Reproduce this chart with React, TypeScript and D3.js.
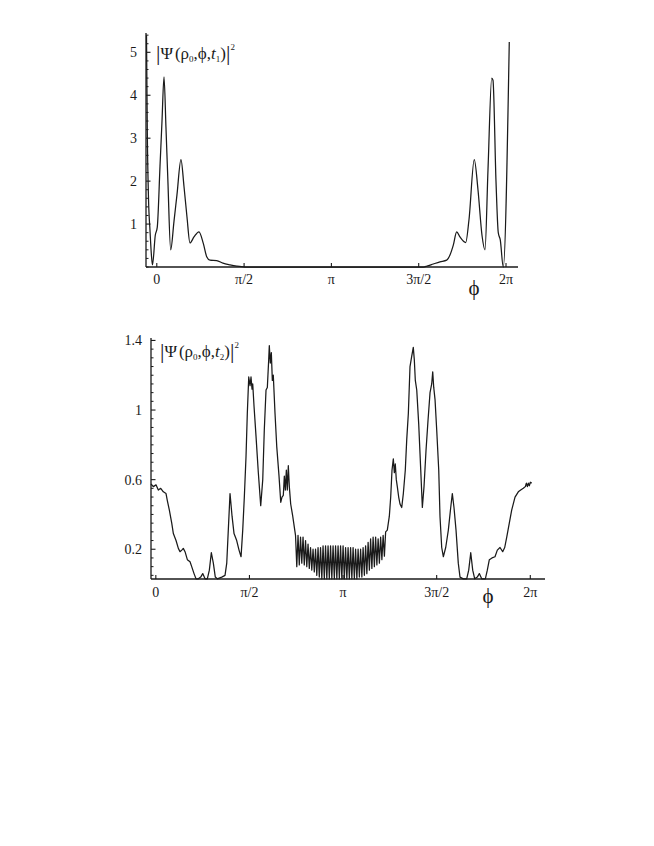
import * as d3 from "d3";

// |Psi|^2 at t1 as [phi, value]
const TOP_CURVE: [number, number][] = [
  [-0.185, 5.4], [-0.171, 3.2], [-0.149, 1.6], [-0.122, 0.85], [-0.095, 0.25], [-0.077, 0.05],
  [-0.027, 0.74], [0.009, 0.93], [0.058, 2.35], [0.094, 3.4], [0.13, 4.43], [0.165, 3.26],
  [0.2, 2.0], [0.25, 0.4], [0.31, 1.07], [0.363, 1.68], [0.435, 2.5], [0.49, 1.87],
  [0.543, 1.17], [0.597, 0.56], [0.669, 0.7], [0.759, 0.82], [0.837, 0.55], [0.898, 0.24],
  [0.957, 0.16], [1.078, 0.15], [1.191, 0.09], [1.317, 0.05], [1.438, 0.02], [1.587, 0],
  [4.8, 0], [4.861, 0.02], [4.975, 0.07], [5.095, 0.12], [5.216, 0.16], [5.275, 0.28],
  [5.335, 0.51], [5.396, 0.82], [5.455, 0.7], [5.558, 0.57], [5.617, 1.1], [5.712, 2.5],
  [5.779, 1.8], [5.851, 0.74], [5.905, 0.4], [5.959, 2.26], [6.026, 4.4], [6.049, 4.35],
  [6.103, 2.0], [6.144, 0.8], [6.18, 0.63], [6.234, 0], [6.342, 5.24],
];

// |Psi|^2 at t2, left rise
const BOTTOM_LEFT: [number, number][] = [
  [-0.081, 0.575], [-0.042, 0.56], [0.003, 0.57], [0.042, 0.54], [0.082, 0.55], [0.126, 0.53],
  [0.171, 0.52], [0.193, 0.48], [0.227, 0.425], [0.267, 0.35], [0.294, 0.29], [0.339, 0.25],
  [0.378, 0.205], [0.406, 0.186], [0.435, 0.195], [0.461, 0.205], [0.49, 0.186], [0.529, 0.14],
  [0.574, 0.128], [0.602, 0.1], [0.641, 0.06], [0.674, 0.03], [0.713, 0.03], [0.753, 0.04],
  [0.787, 0.06], [0.826, 0.03], [0.864, 0.03], [0.898, 0.08], [0.931, 0.18], [0.965, 0.12],
  [0.998, 0.04], [1.032, 0.03], [1.106, 0.04], [1.161, 0.05], [1.19, 0.12], [1.216, 0.31],
  [1.245, 0.52], [1.279, 0.39], [1.312, 0.29], [1.357, 0.25], [1.396, 0.195], [1.43, 0.157],
  [1.458, 0.31], [1.485, 0.5], [1.513, 0.73], [1.535, 0.98], [1.559, 1.19], [1.581, 1.14],
  [1.597, 1.19], [1.614, 1.12], [1.626, 1.15], [1.648, 1.02], [1.681, 0.85], [1.72, 0.64],
  [1.76, 0.45], [1.794, 0.6], [1.82, 0.885], [1.849, 1.115], [1.871, 1.13], [1.894, 1.29],
  [1.904, 1.37], [1.921, 1.27], [1.938, 1.33], [1.955, 1.17], [1.971, 1.2], [2.0, 0.98],
  [2.029, 0.79], [2.067, 0.62], [2.096, 0.47], [2.117, 0.5], [2.139, 0.51], [2.156, 0.62],
  [2.173, 0.54], [2.19, 0.655], [2.206, 0.54], [2.223, 0.68], [2.24, 0.56], [2.263, 0.46],
  [2.297, 0.39], [2.331, 0.31],
];

// fast wiggle around phi = pi
const BOTTOM_MIDDLE: [number, number][] = [
  [2.344, 0.28], [2.365, 0.1], [2.386, 0.28], [2.407, 0.11], [2.428, 0.27], [2.449, 0.12],
  [2.47, 0.27], [2.491, 0.11], [2.512, 0.25], [2.533, 0.1], [2.554, 0.23], [2.575, 0.09],
  [2.596, 0.21], [2.617, 0.08], [2.638, 0.2], [2.659, 0.07], [2.68, 0.2], [2.701, 0.05],
  [2.722, 0.21], [2.743, 0.04], [2.764, 0.21], [2.785, 0.03], [2.806, 0.22], [2.827, 0.03],
  [2.848, 0.22], [2.869, 0.03], [2.89, 0.22], [2.911, 0.03], [2.932, 0.22], [2.953, 0.03],
  [2.974, 0.22], [2.995, 0.03], [3.016, 0.22], [3.037, 0.03], [3.058, 0.22], [3.079, 0.03],
  [3.1, 0.22], [3.121, 0.03], [3.142, 0.22], [3.163, 0.03], [3.184, 0.21], [3.205, 0.03],
  [3.226, 0.21], [3.247, 0.03], [3.268, 0.21], [3.289, 0.03], [3.31, 0.21], [3.331, 0.03],
  [3.352, 0.2], [3.373, 0.03], [3.394, 0.2], [3.415, 0.04], [3.436, 0.2], [3.457, 0.04],
  [3.478, 0.21], [3.499, 0.05], [3.52, 0.22], [3.541, 0.06], [3.562, 0.24], [3.583, 0.08],
  [3.604, 0.26], [3.625, 0.09], [3.646, 0.27], [3.667, 0.1], [3.688, 0.27], [3.709, 0.11],
  [3.73, 0.26], [3.751, 0.12], [3.772, 0.27], [3.793, 0.14], [3.814, 0.28], [3.835, 0.16],
  [3.856, 0.3],
];

const BOTTOM_RIGHT: [number, number][] = [
  [3.884, 0.31], [3.918, 0.39], [3.941, 0.5], [3.963, 0.655], [3.985, 0.72], [4.002, 0.64],
  [4.018, 0.69], [4.035, 0.6], [4.052, 0.56], [4.075, 0.5], [4.097, 0.46], [4.126, 0.44],
  [4.153, 0.52], [4.186, 0.655], [4.21, 0.83], [4.237, 0.98], [4.265, 1.25], [4.294, 1.31],
  [4.32, 1.36], [4.337, 1.29], [4.354, 1.17], [4.378, 1.115], [4.411, 0.92], [4.445, 0.655],
  [4.472, 0.44], [4.5, 0.56], [4.534, 0.77], [4.567, 0.94], [4.601, 1.1], [4.629, 1.15],
  [4.646, 1.22], [4.663, 1.13], [4.685, 1.06], [4.713, 0.885], [4.747, 0.655], [4.768, 0.39],
  [4.797, 0.21], [4.824, 0.157], [4.864, 0.21], [4.908, 0.31], [4.948, 0.44], [4.975, 0.52],
  [5.003, 0.44], [5.037, 0.31], [5.075, 0.12], [5.104, 0.04], [5.159, 0.03], [5.216, 0.03],
  [5.25, 0.08], [5.284, 0.18], [5.317, 0.08], [5.351, 0.03], [5.394, 0.04], [5.428, 0.06],
  [5.468, 0.03], [5.529, 0.03], [5.562, 0.08], [5.596, 0.14], [5.641, 0.15], [5.691, 0.157],
  [5.73, 0.195], [5.775, 0.21], [5.82, 0.186], [5.854, 0.21], [5.888, 0.27], [5.931, 0.35],
  [5.971, 0.425], [6.027, 0.5], [6.082, 0.53], [6.122, 0.54], [6.166, 0.55], [6.2, 0.56],
  [6.217, 0.58], [6.234, 0.56], [6.25, 0.58], [6.267, 0.565], [6.284, 0.585], [6.307, 0.58],
];

const X_TICKS = [0, Math.PI / 2, Math.PI, (3 * Math.PI) / 2, 2 * Math.PI];
const X_TICK_LABELS = ["0", "π/2", "π", "3π/2", "2π"];
const TOP_Y_TICKS = [1, 2, 3, 4, 5];
const TOP_Y_LABELS = ["1", "2", "3", "4", "5"];
const BOTTOM_Y_TICKS = [0.2, 0.6, 1, 1.4];
const BOTTOM_Y_LABELS = ["0.2", "0.6", "1", "1.4"];

const FONT = "'Liberation Serif', 'Times New Roman', serif";
const INK = "#1a1a1a";

type PanelProps = {
  curve: [number, number][];
  smooth: boolean;
  xDomain: [number, number];
  xRange: [number, number];
  yDomain: [number, number];
  yRange: [number, number];
  yTicks: number[];
  yLabels: string[];
  minorStep: number;
  yLabelX: number;
  xLabelY: number;
  phiPos: [number, number];
  titlePos: [number, number];
  tIndex: string;
};

function Panel(p: PanelProps) {
  const x = d3.scaleLinear().domain(p.xDomain).range(p.xRange);
  const y = d3.scaleLinear().domain(p.yDomain).range(p.yRange);
  const line = d3
    .line<[number, number]>()
    .x((d) => x(d[0]))
    .y((d) => y(d[1]))
    .curve(p.smooth ? d3.curveMonotoneX : d3.curveLinear);

  const x0 = p.xRange[0];
  const yBase = p.yRange[0];
  const minors = d3
    .range(Math.ceil(p.yDomain[0] / p.minorStep) * p.minorStep, p.yDomain[1] + 1e-9, p.minorStep)
    .filter((v) => !p.yTicks.some((t) => Math.abs(t - v) < 1e-6));

  return (
    <g>
      <path d={line(p.curve) ?? ""} fill="none" stroke={INK} strokeWidth={1.25} strokeLinejoin="round" />
      {/* axes */}
      <line x1={p.xRange[0]} x2={p.xRange[1]} y1={yBase} y2={yBase} stroke={INK} strokeWidth={1.3} />
      <line x1={x0} x2={x0} y1={p.yRange[0]} y2={p.yRange[1]} stroke={INK} strokeWidth={1.3} />
      {minors.map((v, i) => (
        <line key={"m" + i} x1={x0} x2={x0 + 2.5} y1={y(v)} y2={y(v)} stroke={INK} strokeWidth={1} />
      ))}
      {p.yTicks.map((v, i) => (
        <g key={"y" + i}>
          <line x1={x0} x2={x0 + 4.5} y1={y(v)} y2={y(v)} stroke={INK} strokeWidth={1.1} />
          <text x={p.yLabelX} y={y(v)} dy="0.35em" textAnchor="end" fontFamily={FONT} fontSize={14} fill={INK}>
            {p.yLabels[i]}
          </text>
        </g>
      ))}
      {X_TICKS.map((v, i) => (
        <g key={"x" + i}>
          <line x1={x(v)} x2={x(v)} y1={yBase} y2={yBase - 4} stroke={INK} strokeWidth={1.1} />
          <text x={x(v)} y={p.xLabelY} textAnchor="middle" fontFamily={FONT} fontSize={14} fill={INK}>
            {X_TICK_LABELS[i]}
          </text>
        </g>
      ))}
      <text x={p.phiPos[0]} y={p.phiPos[1]} textAnchor="middle" fontFamily={FONT} fontSize={21} fill={INK}>
        ϕ
      </text>
      <text x={p.titlePos[0]} y={p.titlePos[1]} fontFamily={FONT} fontSize={17} fill={INK}>
        <tspan fontSize={22} dy={1}>|</tspan>
        <tspan dy={-1}>Ψ</tspan>
        <tspan dx={2}>(ρ</tspan>
        <tspan fontSize={9} dy={3}>0</tspan>
        <tspan dy={-3}>,ϕ,</tspan>
        <tspan fontStyle="italic">t</tspan>
        <tspan fontSize={9} dy={3}>{p.tIndex}</tspan>
        <tspan dy={-3}>)</tspan>
        <tspan fontSize={22} dy={1}>|</tspan>
        <tspan fontSize={9} dy={-10}>2</tspan>
      </text>
    </g>
  );
}

export default function App() {
  const bottomCurve = [...BOTTOM_LEFT, ...BOTTOM_MIDDLE, ...BOTTOM_RIGHT];
  return (
    <svg
      width={654}
      height={846}
      viewBox="0 0 654 846"
      style={{ position: "absolute", left: 0, top: 0, background: "#fff" }}
    >
      <rect width={654} height={846} fill="#fff" />
      <Panel
        curve={TOP_CURVE}
        smooth={true}
        xDomain={[-0.194, 6.499]}
        xRange={[146, 518]}
        yDomain={[0, 5.45]}
        yRange={[267, 33]}
        yTicks={TOP_Y_TICKS}
        yLabels={TOP_Y_LABELS}
        minorStep={0.2}
        yLabelX={137}
        xLabelY={284}
        phiPos={[474, 295]}
        titlePos={[156, 59]}
        tIndex="1"
      />
      <Panel
        curve={bottomCurve}
        smooth={false}
        xDomain={[-0.081, 6.53]}
        xRange={[151, 545]}
        yDomain={[0.029, 1.414]}
        yRange={[579, 338]}
        yTicks={BOTTOM_Y_TICKS}
        yLabels={BOTTOM_Y_LABELS}
        minorStep={0.05}
        yLabelX={142}
        xLabelY={597}
        phiPos={[488, 603]}
        titlePos={[160, 357]}
        tIndex="2"
      />
    </svg>
  );
}
